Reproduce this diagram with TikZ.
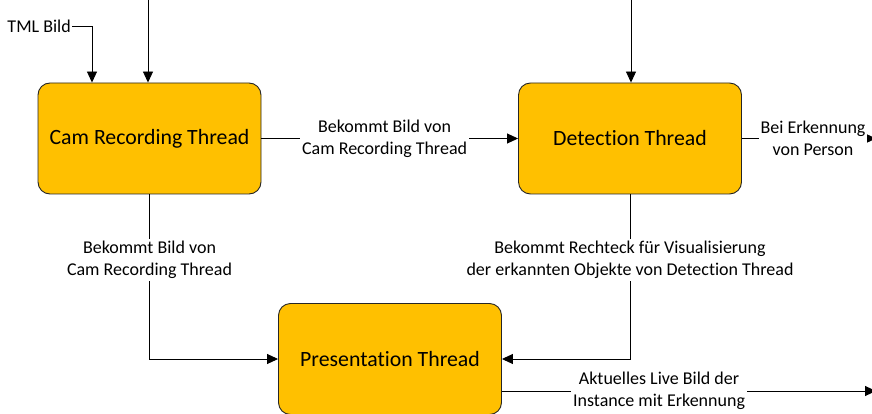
\documentclass[tikz,border=0pt]{standalone}
\usepackage{fontspec}
\setmainfont{Carlito}[Ligatures=NoCommon]
\usetikzlibrary{arrows.meta,calc}
\definecolor{gold}{HTML}{FFC000}
\tikzset{
  box/.style={draw=black!85, line width=0.9pt, fill=gold, rounded corners=12pt,
    minimum width=223pt, minimum height=111pt, inner sep=0pt,
    font=\fontsize{21.8}{26}\selectfont},
  lbl/.style={fill=white, align=center, inner sep=2pt,
    font=\fontsize{18}{22}\selectfont},
  plain/.style={inner sep=1pt, font=\fontsize{18}{22}\selectfont},
  arr/.style={-{Triangle[length=11pt,width=10pt]}, line width=0.9pt}
}
\begin{document}
\begin{tikzpicture}[x=1pt,y=-1pt]
\useasboundingbox (0,0) rectangle (872,414);
\node[box] (cam) at (149.5,138.5) {Cam Recording Thread};
\node[box] (det) at (630,138.5) {Detection Thread};
\node[box] (pres) at (390,359) {Presentation Thread};
\node[plain, anchor=east] (tml) at (72,26) {TML Bild};
\coordinate (camin) at (148,0);
\coordinate (detin) at (631,0);
\coordinate (detout) at (876,138.5);
\coordinate (presout) at (876,391);
\draw[arr] (tml.east) -| ([xshift=-57.5pt]cam.north);
\draw[arr] (camin) -- (camin |- cam.north);
\draw[arr] (detin) -- (detin |- det.north);
\draw[arr] (cam) -- node[lbl, pos=0.48]{Bekommt Bild von\\Cam Recording Thread} (det);
\draw[arr] (det.east) -- node[lbl, pos=0.53]{Bei Erkennung\\von Person} (detout);
\draw[arr] (cam.south) |- node[lbl, pos=0.2]{Bekommt Bild von\\Cam Recording Thread} (pres.west);
\draw[arr] (det.south) |- node[lbl, pos=0.2]{Bekommt Rechteck für Visualisierung\\der erkannten Objekte von Detection Thread} (pres.east);
\draw[arr] (pres.east |- presout) -- node[lbl, pos=0.42]{Aktuelles Live Bild der\\Instance mit Erkennung} (presout);
\end{tikzpicture}
\end{document}
